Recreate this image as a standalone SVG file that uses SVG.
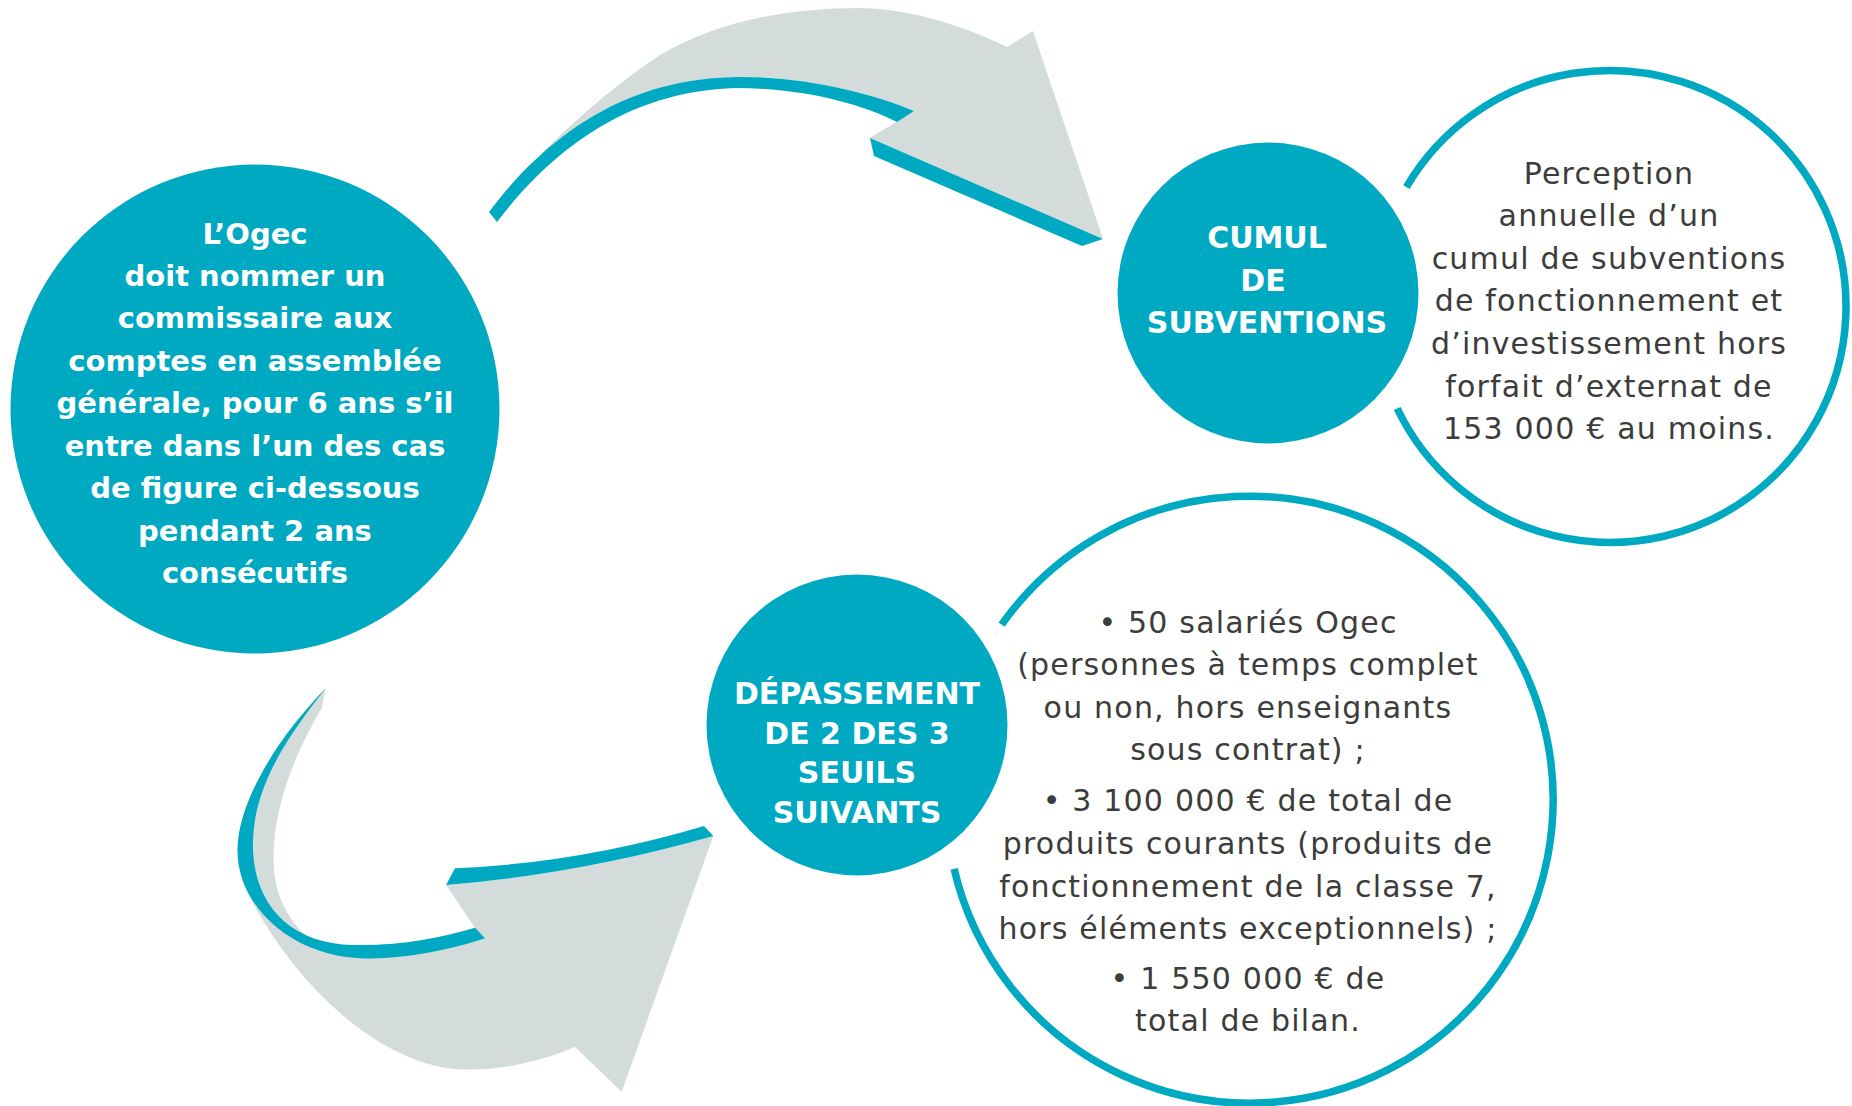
<svg xmlns="http://www.w3.org/2000/svg" width="1852" height="1106" viewBox="0 0 1852 1106">
<style>
.teal{fill:#00A9C2}
.gray{fill:#D3DCDB}
.ring{fill:none;stroke:#00A9C2;stroke-width:7.5}
.tb{font-family:"DejaVu Sans",sans-serif;font-weight:bold;fill:#FFFFFF;text-anchor:middle}
.tr{font-family:"DejaVu Sans",sans-serif;fill:#3C3C3B;text-anchor:middle;font-size:30px;letter-spacing:1.2px}
</style>
<rect width="1852" height="1106" fill="#FFFFFF"/>
<g id="connectors">
  <g id="arrow-top">
    <path class="gray" d="M489,212 C540,150 600,95 660,55 C720,20 790,8 860,8 C915,9 965,27 1007,47 L1033,31 L1103,239 L870,138 L914,111 C870,92 800,76 737,77 C660,78 570,105 489,212 Z"/>
    <path class="teal" d="M914,111 C870,92 800,76 737,77 C660,78 570,105 489,212 L497,222 C575,120 660,90 737,88 C800,88 860,103 897,122 Z"/>
    <path class="teal" d="M870,138 L874,156 L1082,246 L1103,239 Z"/>
  </g>
  <g id="arrow-bottom">
    <path class="gray" d="M325.7,688.3 L321.7,708.3 C300,745 274,800 273.5,856 C273,890 285,915 303.3,933.3 L320,945 L360,952 L450,944 L475,927.7 L446,885 Q580,874 713.3,836 L621.7,1091.7 L575,1047 C535,1064 490,1072 455,1069 C380,1062 300,990 253,903 L243,883 L237.5,850 C238,800 280,735 325.7,688.3 Z"/>
    <path class="teal" d="M325.7,688.3 C280,735 238,800 237.5,850 C237,905 290,955 360,958.3 C400,960 450,950 485,938.3 L475,927.7 C440,938 400,946 353,945 C290,944 255,905 253,850 C251,790 285,740 325.7,688.3 Z"/>
    <path class="teal" d="M446,885 L455,868.3 Q580,863 704,826 L713.3,836 Q580,874 446,885 Z"/>
  </g>
</g>
<g id="node-ogec">
  <circle class="teal" cx="255" cy="409" r="244.5"/>
  <text class="tb" font-size="29"><tspan x="255" y="244">L’Ogec</tspan><tspan x="255" y="286">doit nommer un</tspan><tspan x="255" y="328.3">commissaire aux</tspan><tspan x="255" y="371">comptes en assemblée</tspan><tspan x="255" y="413.3">générale, pour 6 ans s’il</tspan><tspan x="255" y="455.7">entre dans l’un des cas</tspan><tspan x="255" y="498.3">de figure ci-dessous</tspan><tspan x="255" y="540.7">pendant 2 ans</tspan><tspan x="255" y="583.3">consécutifs</tspan></text>
</g>
<g id="node-cumul-detail">
  <path class="ring" d="M1406.4,187.1 A236,236 0 1 1 1397.2,408.5"/>
  <text class="tr"><tspan x="1609" y="184">Perception</tspan><tspan x="1609" y="225.7">annuelle d’un</tspan><tspan x="1609" y="269.3">cumul de subventions</tspan><tspan x="1609" y="310.7">de fonctionnement et</tspan><tspan x="1609" y="354.3">d’investissement hors</tspan><tspan x="1609" y="396.7">forfait d’externat de</tspan><tspan x="1609" y="439.3">153 000 € au moins.</tspan></text>
</g>
<g id="node-cumul">
  <circle class="teal" cx="1268" cy="293" r="150.5"/>
  <text class="tb" font-size="30"><tspan x="1267" y="248.3">CUMUL</tspan><tspan x="1263" y="290.7">DE</tspan><tspan x="1267" y="332.7">SUBVENTIONS</tspan></text>
</g>
<g id="node-seuils-detail">
  <path class="ring" d="M1001.6,624.7 A303.5,303.5 0 1 1 954.1,868.9"/>
  <text class="tr"><tspan x="1248" y="632.9">• 50 salariés Ogec</tspan><tspan x="1248" y="674.8">(personnes à temps complet</tspan><tspan x="1248" y="717.5">ou non, hors enseignants</tspan><tspan x="1248" y="760.2">sous contrat) ;</tspan><tspan x="1248" y="810.5">• 3 100 000 € de total de</tspan><tspan x="1248" y="854.1">produits courants (produits de</tspan><tspan x="1248" y="897.2">fonctionnement de la classe 7,</tspan><tspan x="1248" y="939.1">hors éléments exceptionnels) ;</tspan><tspan x="1248" y="989">• 1 550 000 € de</tspan><tspan x="1248" y="1030.9">total de bilan.</tspan></text>
</g>
<g id="node-seuils">
  <circle class="teal" cx="857" cy="725" r="150.5"/>
  <text class="tb" font-size="30"><tspan x="857" y="703.6">DÉPASSEMENT</tspan><tspan x="857" y="743.5">DE 2 DES 3</tspan><tspan x="857" y="783.4">SEUILS</tspan><tspan x="857" y="823.3">SUIVANTS</tspan></text>
</g>
</svg>
